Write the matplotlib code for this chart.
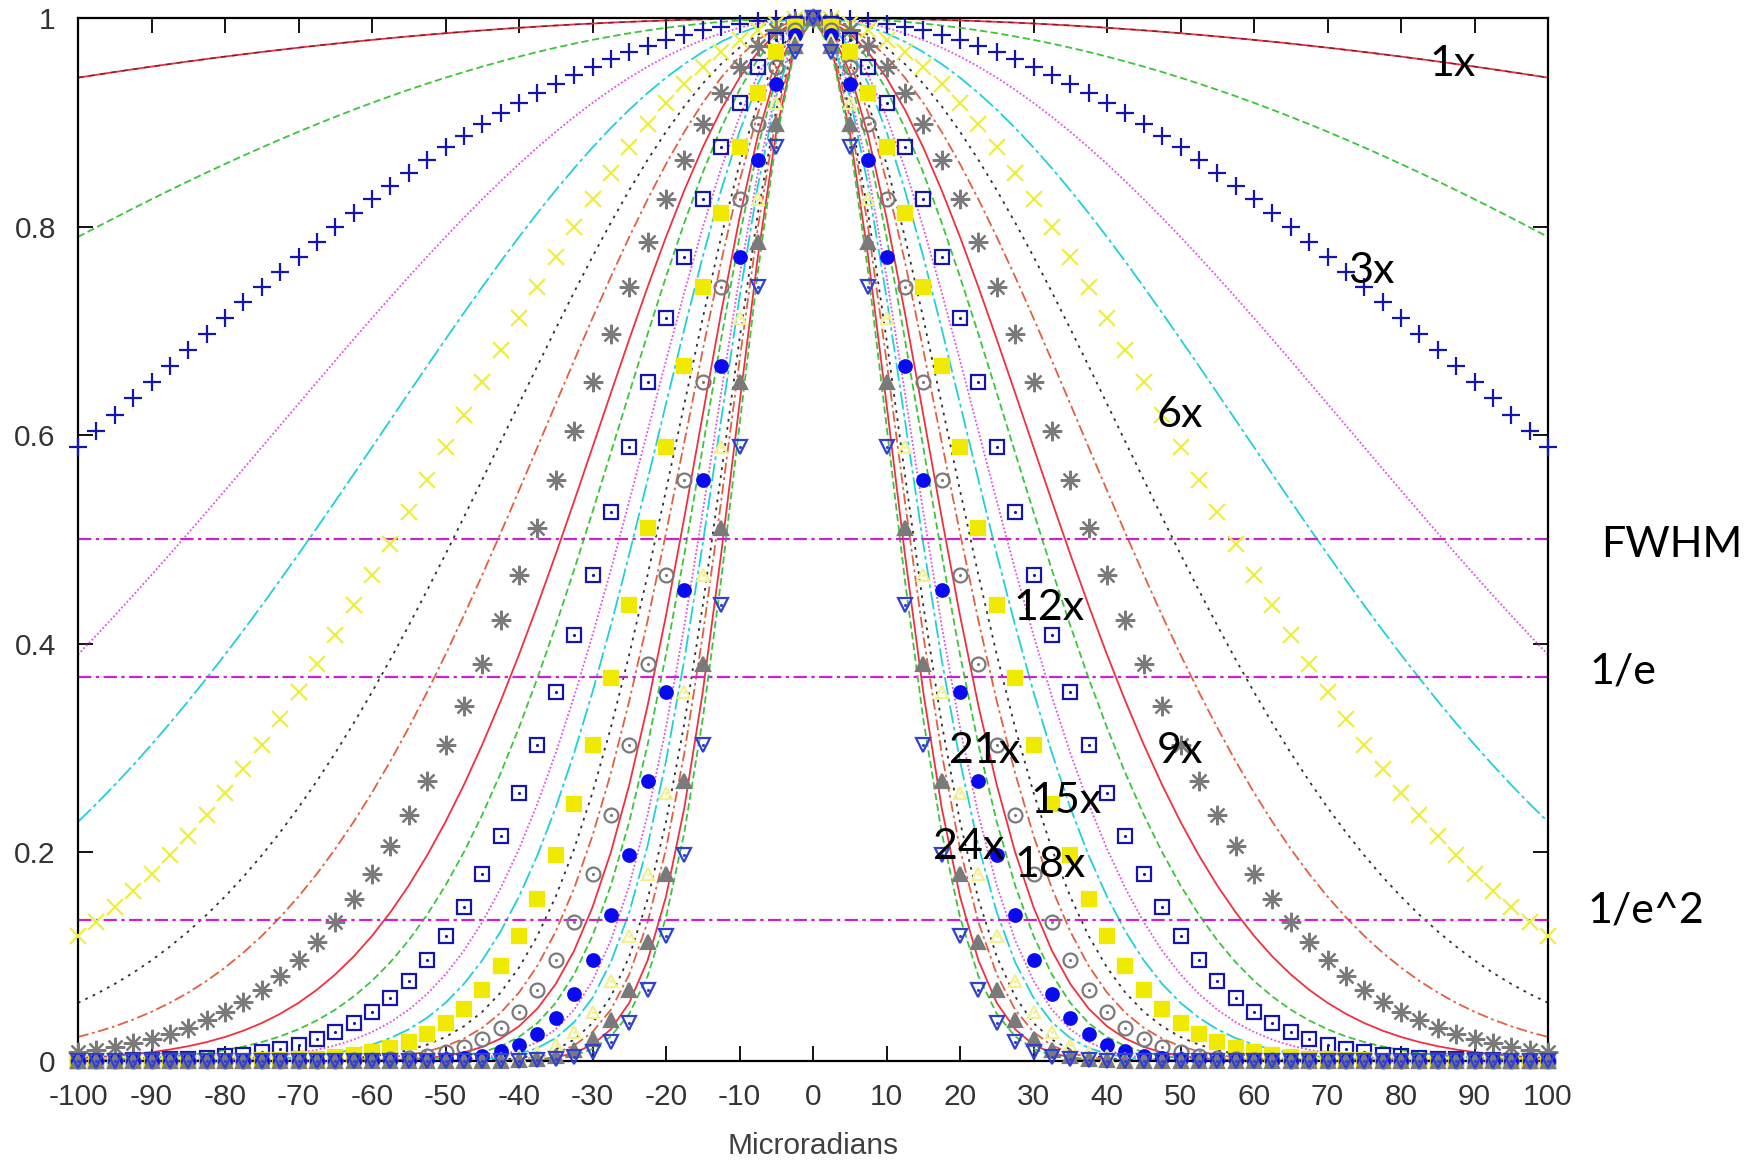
import numpy as np
import matplotlib
matplotlib.use('Agg')
import matplotlib.pyplot as plt

plt.rcParams['axes.unicode_minus'] = False

# ---------------- data ----------------
magnifications = list(range(1, 31))          # 1x ... 30x
half_width_1x = 412.0                        # 1/e half-width of the 1x beam (microradians)
x_samples = np.linspace(-100, 100, 81)       # sample positions (step 2.5 microradians)

ref_levels = [0.5, 1 / np.e, 1 / np.e ** 2]
ref_names = ['FWHM', '1/e', '1/e^2']
ref_label_x = [116.8, 110.2, 113.3]
ref_label_y = [0.495, 0.373, 0.144]

curve_labels = ['1x', '3x', '6x', '9x', '12x', '15x', '18x', '21x', '24x']
label_x = [87.0, 75.9, 49.9, 49.9, 32.1, 34.4, 32.2, 23.4, 21.2]
label_y = [0.956, 0.757, 0.619, 0.297, 0.434, 0.249, 0.188, 0.297, 0.205]

xticks = list(range(-100, 101, 10))
yticks = [0, 0.2, 0.4, 0.6, 0.8, 1]
ytick_labels = ['0', '0.2', '0.4', '0.6', '0.8', '1']

# ---------------- styles (gnuplot-like cycle of 9) ----------------
line_styles = {
    0: dict(color='#f03040', dashes=()),                 # red solid
    1: dict(color='#3cc43c', dashes=(4, 2)),             # green dashed
    3: dict(color='#e050e0', dashes=(1, 1.2)),           # magenta dotted
    4: dict(color='#20d0d8', dashes=(10, 2, 2, 2)),      # cyan long dash
    6: dict(color='#303030', dashes=(1.5, 3)),           # black dotted
    7: dict(color='#e06040', dashes=(6, 2, 1.5, 2)),     # orange dash-dot
}
BLUE, YELLOW, GRAY = '#1414b0', '#f0ea00', '#7a7a7a'
point_styles = [
    dict(marker='+', color=BLUE, filled=False, ms=13, dot=False),
    dict(marker='x', color='#eeee40', filled=False, ms=11, dot=False),
    dict(marker=(8, 2, 0), color=GRAY, filled=False, ms=14, dot=False),
    dict(marker='s', color=BLUE, filled=False, ms=10, dot=True),
    dict(marker='s', color=YELLOW, filled=True, ms=10, dot=False),
    dict(marker='o', color=GRAY, filled=False, ms=10, dot=True),
    dict(marker='o', color='#0a0af0', filled=True, ms=9, dot=False),
    dict(marker='^', color='#f4f090', filled=False, ms=9, dot=True),
    dict(marker='^', color=GRAY, filled=True, ms=10, dot=False),
    dict(marker='v', color='#3040d0', filled=False, ms=10, dot=True),
]

fig = plt.figure(figsize=(17.62, 11.62), dpi=100)
ax = fig.add_axes([0.04427, 0.08692, 0.83428, 0.89759])

for i, n in enumerate(magnifications):
    y = np.exp(-(n * x_samples / half_width_1x) ** 2)
    k = (n - 1) % 9
    z = 2 + n * 0.01
    if k in line_styles:
        st = line_styles[k]
        ax.plot(x_samples, y, color=st['color'], lw=1.3, dashes=st['dashes'], zorder=z)
        if n == 1:
            ax.plot(x_samples, y, color='#702030', lw=1.0, dashes=(4, 4), zorder=z)
    else:
        ps = point_styles[n // 3 - 1]
        face = ps['color'] if ps['filled'] else 'none'
        ax.plot(x_samples, y, ls='none', marker=ps['marker'], ms=ps['ms'],
                mec=ps['color'], mfc=face, mew=1.6, clip_on=False, zorder=z + 1)
        if ps['dot']:
            ax.plot(x_samples, y, ls='none', marker='.', ms=2.5, color=ps['color'],
                    clip_on=False, zorder=z + 1)

for lvl in ref_levels:
    ax.axhline(lvl, color='#cc22cc', lw=1.6, dashes=(6, 2, 1.5, 2), zorder=2.5)

ax.set_xlim(-100, 100)
ax.set_ylim(0, 1)
ax.set_xticks(xticks)
ax.set_yticks(yticks)
ax.set_yticklabels(ytick_labels)
ax.tick_params(direction='in', top=True, right=True, length=11, width=1.3,
               labelsize=21.5, labelcolor='#333333', colors='black')
ax.tick_params(axis='x', pad=16, labelcolor='#333333')
ax.tick_params(axis='y', pad=16, labelcolor='#333333')
for lab in ax.get_xticklabels() + ax.get_yticklabels():
    lab.set_family('Liberation Sans')
for sp in ax.spines.values():
    sp.set_linewidth(1.6)

ax.set_xlabel('Microradians', fontsize=21.5, family='Liberation Sans', color='#404040')
ax.xaxis.set_label_coords(0.5, -0.068)

for t, lx, ly in zip(curve_labels, label_x, label_y):
    ax.text(lx, ly, t, fontsize=31, family='Lato', ha='center', va='center',
            color='black', zorder=10)
for t, lx, ly in zip(ref_names, ref_label_x, ref_label_y):
    ax.text(lx, ly, t, fontsize=31, family='Lato', ha='center', va='center',
            color='black', clip_on=False, zorder=10)

fig.savefig('out.png', dpi=100, facecolor='white')
